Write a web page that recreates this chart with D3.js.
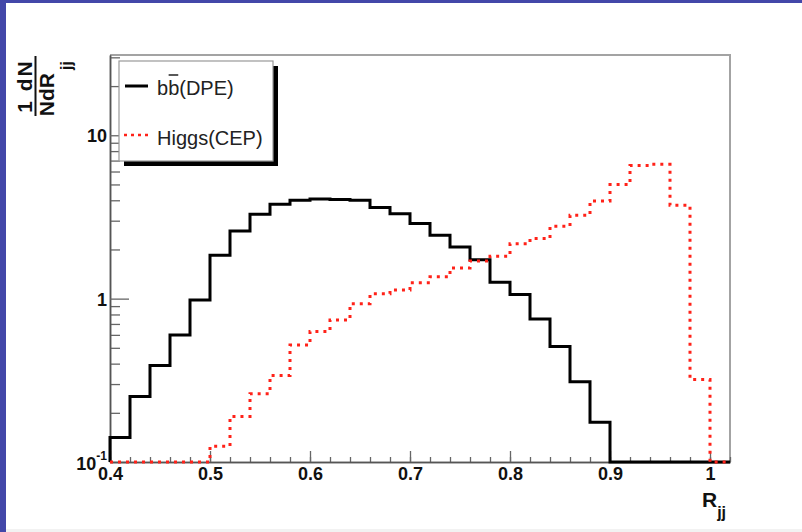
<!DOCTYPE html>
<html>
<head>
<meta charset="utf-8">
<script src="https://cdn.jsdelivr.net/npm/d3@7"></script>
<style>
  html, body { margin: 0; padding: 0; background: #fff; }
  svg { display: block; }
  text { font-family: "Liberation Sans", Arial, Helvetica, sans-serif; }
</style>
</head>
<body>
<svg id="chart" width="802" height="532"></svg>
<script>
// Bin edges of the R_jj histograms (width 0.02)
const binEdges = [0.40, 0.42, 0.44, 0.46, 0.48, 0.50, 0.52, 0.54, 0.56, 0.58,
                  0.60, 0.62, 0.64, 0.66, 0.68, 0.70, 0.72, 0.74, 0.76, 0.78,
                  0.80, 0.82, 0.84, 0.86, 0.88, 0.90, 0.92, 0.94, 0.96, 0.98,
                  1.00, 1.02];

// Normalised distributions 1/N dN/dR_jj per bin
const bbDPE = [0.141, 0.252, 0.39, 0.60, 0.98, 1.84, 2.59, 3.28, 3.78, 4.00,
               4.07, 4.05, 4.00, 3.61, 3.31, 2.88, 2.44, 2.07, 1.73, 1.26,
               1.06, 0.75, 0.51, 0.31, 0.175, 0, 0, 0, 0, 0,
               0];
const higgsCEP = [0, 0, 0, 0, 0, 0.125, 0.19, 0.262, 0.338, 0.52,
                  0.63, 0.74, 0.93, 1.07, 1.13, 1.25, 1.36, 1.54, 1.70, 1.82,
                  2.17, 2.33, 2.77, 3.24, 3.96, 4.99, 6.52, 6.64, 3.73, 0.32,
                  0];

const xMajorTicks = [0.4, 0.5, 0.6, 0.7, 0.8, 0.9, 1.0];
const xMinorTicks = binEdges;
const yMajorTicks = [0.1, 1, 10];
const yMinorTicks = [0.2, 0.3, 0.4, 0.5, 0.6, 0.7, 0.8, 0.9,
                     2, 3, 4, 5, 6, 7, 8, 9, 20, 30];
const seriesNames = ["b", "(DPE)", "Higgs(CEP)"];

const svg = d3.select("#chart");

// slide-style border
svg.append("rect").attr("x", 0).attr("y", 0).attr("width", 802).attr("height", 532).attr("fill", "#fff");
svg.append("rect").attr("x", 0).attr("y", 0).attr("width", 802).attr("height", 3).attr("fill", "#4347a9");
svg.append("rect").attr("x", 0).attr("y", 0).attr("width", 6).attr("height", 532).attr("fill", "#4347a9");
svg.append("rect").attr("x", 6).attr("y", 529).attr("width", 796).attr("height", 3).attr("fill", "#f2f2f2");

const plot = { left: 110, right: 730, top: 55, bottom: 462 };

const x = d3.scaleLinear().domain([0.4, 1.02]).range([plot.left, plot.right]);
const y = d3.scaleLog().domain([0.1, 31]).range([plot.bottom, plot.top]);
const floor = y.domain()[0];

// frame (top / right)
svg.append("path")
  .attr("d", `M${plot.left},${plot.top}H${plot.right}V${plot.bottom}`)
  .attr("fill", "none").attr("stroke", "#a3a3a3").attr("stroke-width", 2);

// Y axis: minor then major ticks, pointing inwards
const yMinor = svg.append("g").attr("transform", `translate(${plot.left},0)`)
  .call(d3.axisLeft(y).tickValues(yMinorTicks).tickSize(-10).tickSizeOuter(0).tickFormat(""));
const yMajor = svg.append("g").attr("transform", `translate(${plot.left},0)`)
  .call(d3.axisLeft(y).tickValues(yMajorTicks).tickSize(-19).tickSizeOuter(0).tickPadding(3)
    .tickFormat(d => d >= 1 ? String(d) : "10"));
yMajor.selectAll(".tick text")
  .attr("font-size", 18).attr("font-weight", "bold").attr("fill", "#111").attr("dy", "0.36em")
  .filter(d => d < 1)
  .attr("dy", "0.42em")
  .append("tspan").attr("dy", -10).attr("font-size", 12).text("-1");

// X axis: minor every bin, major every 0.1, ticks pointing upwards
const xMinor = svg.append("g").attr("transform", `translate(0,${plot.bottom})`)
  .call(d3.axisBottom(x).tickValues(xMinorTicks).tickSize(-5).tickSizeOuter(0).tickFormat(""));
const xMajor = svg.append("g").attr("transform", `translate(0,${plot.bottom})`)
  .call(d3.axisBottom(x).tickValues(xMajorTicks).tickSize(-11).tickSizeOuter(0).tickPadding(5)
    .tickFormat(d => d === 1 ? "1" : d.toFixed(1)));
xMajor.selectAll(".tick text")
  .attr("font-size", 18).attr("font-weight", "bold").attr("fill", "#111");

[yMinor, yMajor, xMinor, xMajor].forEach(g => {
  g.selectAll("path.domain").attr("stroke", "#555").attr("stroke-width", 1.5);
  g.selectAll(".tick line").attr("stroke", "#666").attr("stroke-width", 1.3);
});

// histogram outlines
function stepPoints(values) {
  const pts = [[binEdges[0], floor]];
  values.forEach((v, i) => pts.push([binEdges[i], Math.max(v, floor)]));
  pts.push([binEdges[binEdges.length - 1], Math.max(values[values.length - 1], floor)]);
  return pts;
}
const step = d3.line().x(d => x(d[0])).y(d => y(d[1])).curve(d3.curveStepAfter);

svg.append("path").datum(stepPoints(bbDPE))
  .attr("d", step).attr("fill", "none").attr("stroke", "#000").attr("stroke-width", 3)
  .attr("stroke-linejoin", "miter");
svg.append("path").datum(stepPoints(higgsCEP))
  .attr("d", step).attr("fill", "none").attr("stroke", "#ff2219").attr("stroke-width", 3)
  .attr("stroke-dasharray", "3 5");

// legend
const lg = svg.append("g");
lg.append("rect").attr("x", 124).attr("y", 66).attr("width", 154).attr("height", 100).attr("fill", "#000");
lg.append("rect").attr("x", 119).attr("y", 61).attr("width", 154).attr("height", 100)
  .attr("fill", "#fff").attr("stroke", "#999").attr("stroke-width", 1.2);
lg.append("line").attr("x1", 125).attr("x2", 148).attr("y1", 86).attr("y2", 86)
  .attr("stroke", "#000").attr("stroke-width", 3);
lg.append("line").attr("x1", 124).attr("x2", 152).attr("y1", 135).attr("y2", 135)
  .attr("stroke", "#ff2219").attr("stroke-width", 2.5).attr("stroke-dasharray", "3 4");
const t1 = lg.append("text").attr("x", 157).attr("y", 95).attr("font-size", 20).attr("fill", "#222");
t1.append("tspan").text(seriesNames[0]);
t1.append("tspan").text(seriesNames[0]);
t1.append("tspan").text(seriesNames[1]);
{
  const node = t1.node();
  const s = node.getStartPositionOfChar(1).x;
  const e = node.getEndPositionOfChar(1).x;
  lg.append("line").attr("x1", s + 0.5).attr("x2", e - 1).attr("y1", 75).attr("y2", 75)
    .attr("stroke", "#222").attr("stroke-width", 1.5);
}
lg.append("text").attr("x", 157).attr("y", 145).attr("font-size", 20).attr("fill", "#222").text(seriesNames[2]);

// X axis title
const xt = svg.append("text").attr("x", 702).attr("y", 507).attr("font-weight", "bold").attr("fill", "#111");
xt.append("tspan").attr("font-size", 21).text("R");
xt.append("tspan").attr("font-size", 16).attr("dy", 11).text("jj");

// Y axis title: 1/N dN/dR_jj as a rotated fraction
const yt = svg.append("g").attr("transform", "translate(0,86) rotate(-90)")
  .attr("font-weight", "bold").attr("fill", "#111");
yt.append("text").attr("x", 0).attr("y", 32).attr("text-anchor", "middle").attr("font-size", 21)
  .attr("letter-spacing", 2).text("1 dN");
yt.append("line").attr("x1", -30).attr("x2", 30).attr("y1", 35.5).attr("y2", 35.5)
  .attr("stroke", "#111").attr("stroke-width", 2);
yt.append("text").attr("x", 13).attr("y", 54).attr("text-anchor", "end").attr("font-size", 21).text("NdR");
yt.append("text").attr("x", 16).attr("y", 72).attr("font-size", 16).text("jj");
</script>
</body>
</html>
